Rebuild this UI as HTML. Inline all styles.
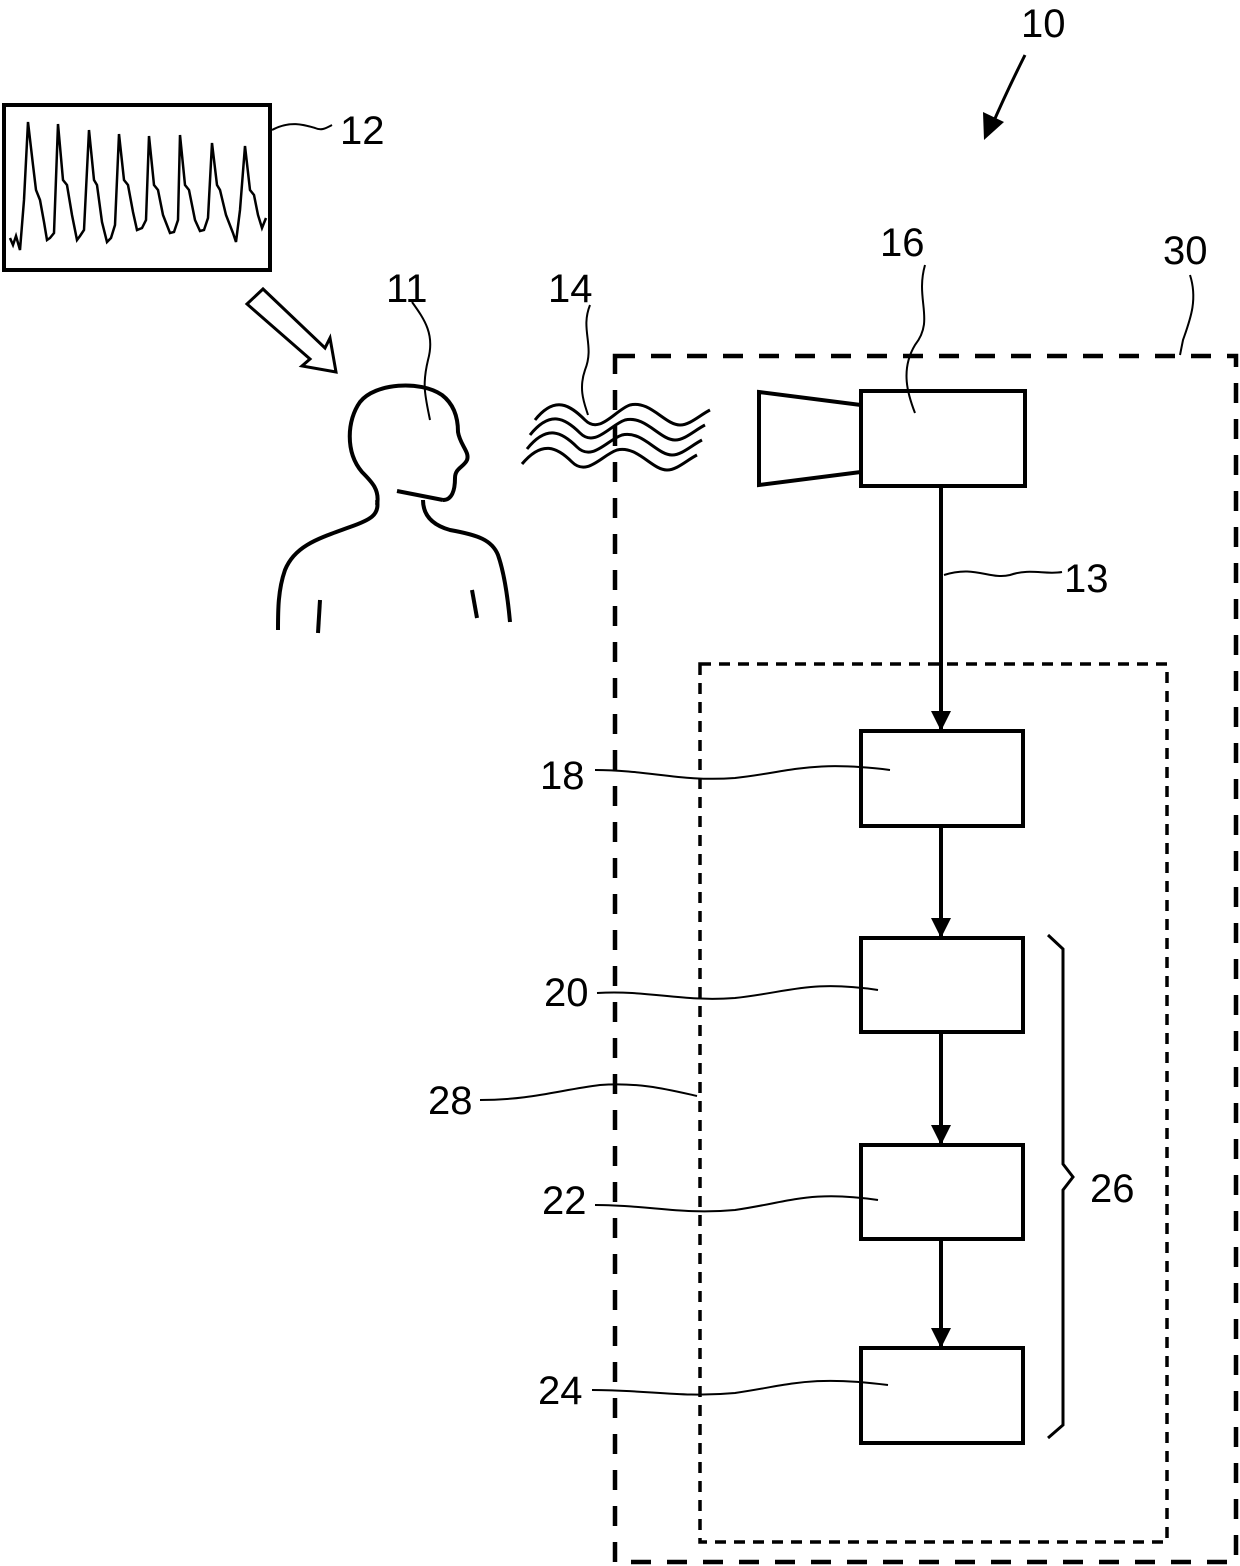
<!DOCTYPE html>
<html><head><meta charset="utf-8"><style>
html,body{margin:0;padding:0;background:#fff;}
svg{display:block;}
text{font-family:"Liberation Sans",sans-serif;font-size:40px;fill:#000;}
</style></head><body>
<svg width="1240" height="1566" viewBox="0 0 1240 1566" xmlns="http://www.w3.org/2000/svg">
<defs>
<marker id="ah" viewBox="0 0 10 10" refX="10" refY="5" markerWidth="5" markerHeight="5" orient="auto" markerUnits="strokeWidth">
<path d="M0,0 L10,5 L0,10 Z" fill="#000"/></marker>
</defs>
<g fill="none" stroke="#000">
<rect x="4" y="105" width="266" height="165" stroke-width="4"/>
<polyline stroke-width="2.5" points="10,238 13,245 16,236 20,250 24,200 28,122 33,165 36,190 40,200 44,222 47,240 50,238 54,233 58,124 63,180 67,185 72,215 77,240 80,236 84,230 89,130 94,180 97,185 102,222 107,242 111,238 115,225 119,134 124,180 128,185 133,212 137,230 142,228 146,220 149,136 154,185 158,190 163,215 170,233 174,232 178,220 180,135 185,185 189,190 195,220 200,231 204,230 208,218 212,143 217,185 220,190 226,215 233,233 236,242 240,210 245,146 250,190 254,195 258,215 262,228 266,218"/>
<path d="M272,130 C290,120 305,125 315,128 C322,131 326,128 332,125" stroke-width="2"/>
<polygon points="247,304 263,289 325,348 330,338 336,372 302,366 310,359" stroke-width="3"/>
<!-- person -->
<path d="M377,505 C380,490 372,482 362,472 C345,452 347,420 360,402 C375,383 420,380 442,395 C455,405 458,420 458,432 C460,445 470,452 467,460 C464,467 455,468 455,478 C455,490 452,500 443,500" stroke-width="4"/>
<path d="M397,491 L443,500" stroke-width="4"/>
<path d="M377,500 C380,515 370,520 350,527 C320,538 295,545 285,570 C278,590 278,610 278,630" stroke-width="4"/>
<path d="M423,500 C423,515 432,525 450,530 C478,535 492,540 498,555 C505,575 508,600 510,622" stroke-width="4"/>
<path d="M320,600 L318,633" stroke-width="4"/>
<path d="M472,590 L477,618" stroke-width="4"/>
<path d="M412,302 C425,320 435,335 428,360 C422,385 425,395 430,420" stroke-width="2"/>
<g stroke-width="3">
<path d="M535,420 C555,395 570,405 585,420 C600,435 615,410 630,405 C650,400 665,425 680,425 C690,425 700,415 710,410"/>
<path d="M530,435 C550,410 565,418 580,433 C595,448 610,425 625,420 C645,415 660,440 675,440 C685,440 695,430 705,425"/>
<path d="M527,449 C547,424 562,432 577,447 C592,462 607,440 622,435 C642,430 657,455 672,455 C682,455 692,445 702,440"/>
<path d="M522,464 C542,440 557,447 572,462 C587,477 602,455 617,450 C637,445 652,470 667,470 C677,470 687,460 697,455"/>
</g>
<path d="M590,305 C580,330 595,345 585,370 C578,390 585,405 588,415" stroke-width="2"/>
<rect x="615" y="356" width="621" height="1206" stroke-width="4.5" stroke-dasharray="20,16"/>
<rect x="700" y="664" width="467" height="878" stroke-width="3.5" stroke-dasharray="11,8"/>
<rect x="861" y="391" width="164" height="95" stroke-width="4"/>
<polygon points="759,392 861,405 861,472 759,485" stroke-width="4"/>
<path d="M925,265 C915,300 935,320 915,345 C900,370 908,395 915,413" stroke-width="2"/>
<path d="M1190,275 C1198,300 1190,320 1183,340 L1180,355" stroke-width="2"/>
<g stroke-width="4">
<line x1="941" y1="486" x2="941" y2="731" marker-end="url(#ah)"/>
<line x1="941" y1="826" x2="941" y2="938" marker-end="url(#ah)"/>
<line x1="941" y1="1032" x2="941" y2="1145" marker-end="url(#ah)"/>
<line x1="941" y1="1239" x2="941" y2="1348" marker-end="url(#ah)"/>
</g>
<path d="M944,575 C975,565 990,580 1010,575 C1030,568 1045,575 1062,572" stroke-width="2"/>
<g stroke-width="4">
<rect x="861" y="731" width="162" height="95"/>
<rect x="861" y="938" width="162" height="94"/>
<rect x="861" y="1145" width="162" height="94"/>
<rect x="861" y="1348" width="162" height="95"/>
</g>
<g stroke-width="2">
<path d="M595,770 C650,770 680,782 735,778 C790,772 810,760 890,770"/>
<path d="M597,993 C650,990 680,1002 735,998 C790,992 810,980 878,990"/>
<path d="M480,1100 C530,1100 560,1090 600,1085 C640,1082 670,1090 697,1096"/>
<path d="M595,1205 C650,1205 680,1215 735,1210 C790,1202 810,1190 878,1200"/>
<path d="M592,1390 C650,1390 680,1398 735,1393 C790,1385 810,1375 888,1385"/>
</g>
<polyline points="1048,935 1063,949 1063,1164 1073,1177 1063,1190 1063,1425 1048,1438" stroke-width="3"/>
<path d="M1025,55 C1015,75 1005,95 990,130" stroke-width="3"/>
</g>
<polygon points="984,140 983,112 1004,122" fill="#000"/>
<text x="1021" y="37">10</text>
<text x="340" y="144">12</text>
<text x="386" y="302">11</text>
<text x="548" y="302">14</text>
<text x="880" y="256">16</text>
<text x="1163" y="264">30</text>
<text x="1064" y="592">13</text>
<text x="540" y="789">18</text>
<text x="544" y="1006">20</text>
<text x="428" y="1114">28</text>
<text x="542" y="1214">22</text>
<text x="1090" y="1202">26</text>
<text x="538" y="1404">24</text>
</svg>
</body></html>
